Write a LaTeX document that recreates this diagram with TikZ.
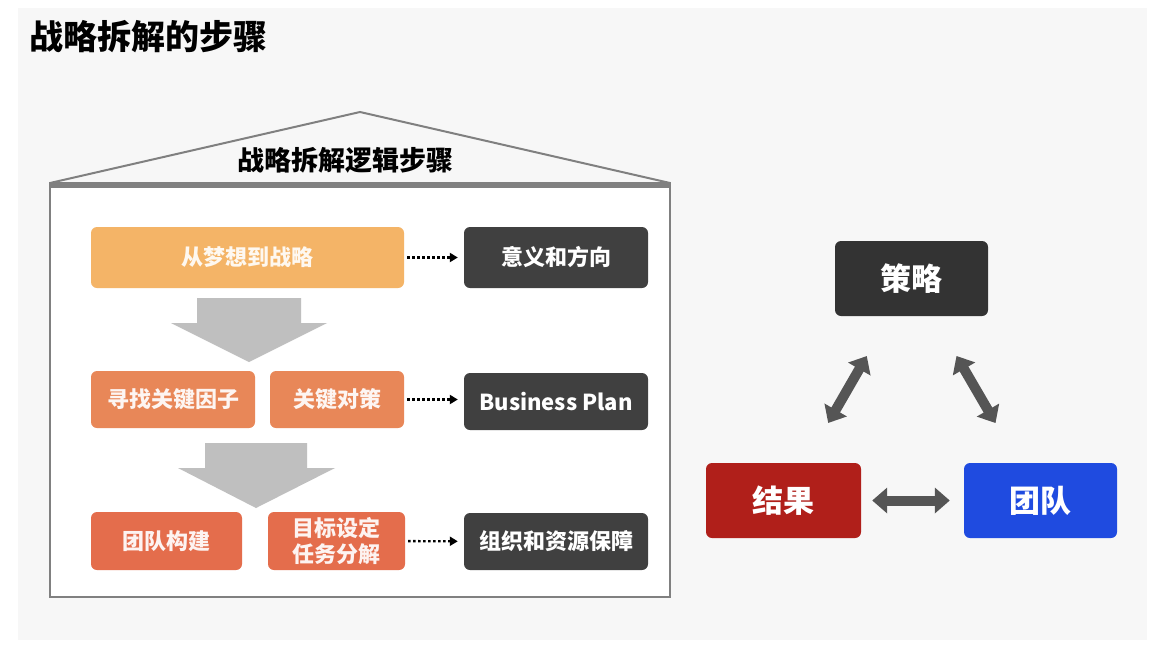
\documentclass[tikz,border=0pt]{standalone}
\usepackage{fontspec}
\setmainfont{Noto Sans CJK SC}
\usetikzlibrary{arrows.meta}
\definecolor{bgray}{HTML}{F7F7F7}
\definecolor{wallgray}{HTML}{808080}
\definecolor{dreamorange}{HTML}{F4B467}
\definecolor{keyorange}{HTML}{E88758}
\definecolor{teamorange}{HTML}{E46D4C}
\definecolor{darkbox}{HTML}{404040}
\definecolor{stratbox}{HTML}{333333}
\definecolor{resred}{HTML}{B01F1A}
\definecolor{teamblue}{HTML}{1F4BE0}
\definecolor{blockgray}{HTML}{BFBFBF}
\definecolor{dblgray}{HTML}{555555}
\begin{document}
\begin{tikzpicture}[x=1pt,y=-1pt,
    stepbox/.style={rounded corners=6pt, text=white, font=\bfseries\fontsize{22}{26}\selectfont, align=center, inner sep=0pt},
    corebox/.style={rounded corners=6pt, text=white, font=\bfseries\fontsize{31}{34}\selectfont, inner sep=0pt, minimum width=154pt, minimum height=75pt},
    dotarrow/.style={line width=2.4pt, dash pattern=on 2.4pt off 2.6pt, -{Triangle[length=8pt,width=9pt]}, shorten <=3pt, shorten >=6pt},
    dblarrow/.style={dblgray, line width=10pt, {Triangle[length=15pt,width=25pt]}-{Triangle[length=15pt,width=25pt]}}]
    \useasboundingbox (0,0) rectangle (1166,654);
    \fill[white] (0,0) rectangle (1166,654);
    \fill[bgray] (18,8) rectangle (1147,640);
    \node[anchor=west, font=\bfseries\fontsize{34}{36}\selectfont] (title) at (26,37) {战略拆解的步骤};
    % house
    \fill[white] (50,183) rectangle (670,597);
    \draw[wallgray, line width=2pt] (50,183) -- (360,112) -- (670,183);
    \draw[wallgray, line width=2pt] (50,183) rectangle (670,597);
    \draw[wallgray, line width=5pt] (50,185) -- (670,185);
    \node[font=\bfseries\fontsize{27}{30}\selectfont] (roof) at (345,160) {战略拆解逻辑步骤};
    % steps
    \node[stepbox, fill=dreamorange, text=white!90!dreamorange, minimum width=313pt, minimum height=61pt] (dream) at (247.5,257.5) {从梦想到战略};
    \node[stepbox, fill=darkbox, minimum width=184pt, minimum height=61pt] (sense) at (556,257.5) {意义和方向};
    \node[stepbox, fill=keyorange, text=white!92!keyorange, minimum width=164pt, minimum height=57pt] (factor) at (173,399.5) {寻找关键因子};
    \node[stepbox, fill=keyorange, text=white!92!keyorange, minimum width=134pt, minimum height=57pt] (measure) at (337,399.5) {关键对策};
    \node[stepbox, fill=darkbox, minimum width=184pt, minimum height=57pt] (plan) at (556,401.5) {Business Plan};
    \node[stepbox, fill=teamorange, text=white!92!teamorange, minimum width=151pt, minimum height=58pt] (build) at (166.5,541) {团队构建};
    \node[stepbox, fill=teamorange, text=white!92!teamorange, minimum width=137pt, minimum height=58pt, font=\bfseries\fontsize{22}{26}\selectfont] (goal) at (336.5,541) {目标设定\\任务分解};
    \node[stepbox, fill=darkbox, minimum width=184pt, minimum height=57pt] (support) at (556,541.5) {组织和资源保障};
    \draw[dotarrow] (dream) -- (sense);
    \draw[dotarrow] (measure.east) -- (measure.east -| plan.west);
    \draw[dotarrow] (goal) -- (support);
    % block arrows
    \fill[blockgray] (197,298) -- (301,298) -- (301,323) -- (327,323) -- (249,362) -- (171,323) -- (197,323) -- cycle;
    \fill[blockgray] (205,443) -- (307,443) -- (307,468) -- (335,468) -- (256,508) -- (178,468) -- (205,468) -- cycle;
    % triangle
    \node[corebox, fill=stratbox, minimum width=153pt] (strat) at (911.5,278.5) {策略};
    \node[corebox, fill=resred, minimum width=155pt] (result) at (783.5,500.5) {结果};
    \node[corebox, fill=teamblue, minimum width=153pt] (team) at (1040.5,500.5) {团队};
    \draw[dblarrow, shorten <=46pt, shorten >=46pt] (result) -- (strat);
    \draw[dblarrow, shorten <=46pt, shorten >=46pt] (strat) -- (team);
    \draw[dblarrow, shorten <=11pt, shorten >=14pt] (result) -- (team);
\end{tikzpicture}
\end{document}
